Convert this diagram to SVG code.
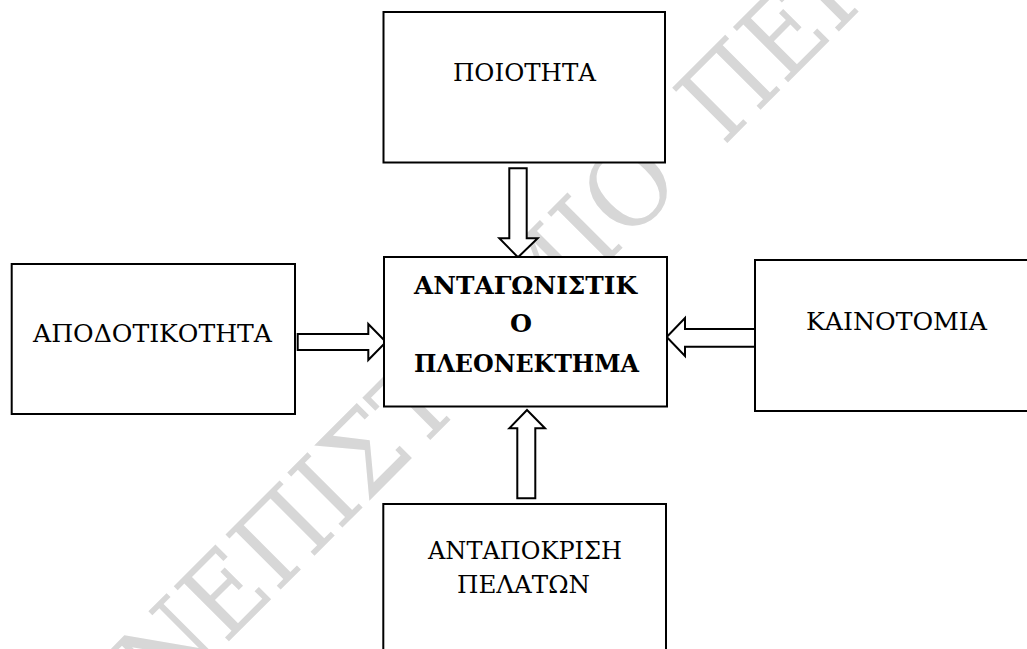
<svg xmlns="http://www.w3.org/2000/svg" width="1027" height="649" viewBox="0 0 1027 649">
  <style>
    .box { fill: #ffffff; stroke: #000000; stroke-width: 2; }
    .arrow { fill: #ffffff; stroke: #000000; stroke-width: 2; stroke-linejoin: miter; }
    .label { font-family: "DejaVu Serif", "Liberation Serif", serif; font-size: 24.5px; fill: #000000; text-anchor: middle; }
    .bold { font-weight: bold; }
    .mark { font-family: "DejaVu Serif", "Liberation Serif", serif; font-size: 107px; fill: #d7d7d7; }
  </style>

  <!-- diagonal background watermark, rotated about the centre of the "Ο" -->
  <g id="watermark" transform="translate(627 188) rotate(-45)">
    <text class="mark" x="-695.4" y="39" textLength="738" lengthAdjust="spacingAndGlyphs">ΝΕΠΙΣΤΗΜΙΟ</text>
    <text class="mark" x="97.4" y="39" textLength="196.6" lengthAdjust="spacingAndGlyphs">ΠΕΙ</text>
  </g>

  <!-- block arrows pointing into the centre box -->
  <g id="connectors">
    <!-- from top -->
    <path class="arrow" d="M509.3,168.3 H526.7 V238.3 H537.7 L518,257.3 L499.3,238.3 H509.3 Z"/>
    <!-- from left -->
    <path class="arrow" d="M297.7,334 H368.3 V324 L386,342 L368.3,360 V350 H297.7 Z"/>
    <!-- from right -->
    <path class="arrow" d="M755,329 H685 V318 L666.7,337 L685,356 V346.7 H755 Z"/>
    <!-- from bottom -->
    <path class="arrow" d="M517.3,498.3 H535.3 V428.3 H545 L527,410 L509.3,428.3 H517.3 Z"/>
  </g>

  <g id="node-quality">
    <rect class="box" x="383.5" y="12" width="281.5" height="150.5"/>
    <text class="label" x="524.5" y="81" textLength="143" lengthAdjust="spacingAndGlyphs">ΠΟΙΟΤΗΤΑ</text>
  </g>

  <g id="node-advantage">
    <rect class="box" x="384" y="257" width="283" height="149.5"/>
    <text class="label bold" x="525.5" y="294" textLength="223" lengthAdjust="spacingAndGlyphs">ΑΝΤΑΓΩΝΙΣΤΙΚ</text>
    <text class="label bold" x="521" y="332" textLength="22" lengthAdjust="spacingAndGlyphs">Ο</text>
    <text class="label bold" x="526.5" y="371.5" textLength="225" lengthAdjust="spacingAndGlyphs">ΠΛΕΟΝΕΚΤΗΜΑ</text>
  </g>

  <g id="node-efficiency">
    <rect class="box" x="11.7" y="264" width="283.3" height="150"/>
    <text class="label" x="152.5" y="342.3" textLength="239" lengthAdjust="spacingAndGlyphs">ΑΠΟΔΟΤΙΚΟΤΗΤΑ</text>
  </g>

  <g id="node-innovation">
    <rect class="box" x="755" y="260" width="280" height="151"/>
    <text class="label" x="896.5" y="330" textLength="181" lengthAdjust="spacingAndGlyphs">ΚΑΙΝΟΤΟΜΙΑ</text>
  </g>

  <g id="node-customer-response">
    <rect class="box" x="383.3" y="504" width="282.7" height="160"/>
    <text class="label" x="525" y="559.3" textLength="194" lengthAdjust="spacingAndGlyphs">ΑΝΤΑΠΟΚΡΙΣΗ</text>
    <text class="label" x="523.5" y="593.3" textLength="133" lengthAdjust="spacingAndGlyphs">ΠΕΛΑΤΩΝ</text>
  </g>
</svg>
